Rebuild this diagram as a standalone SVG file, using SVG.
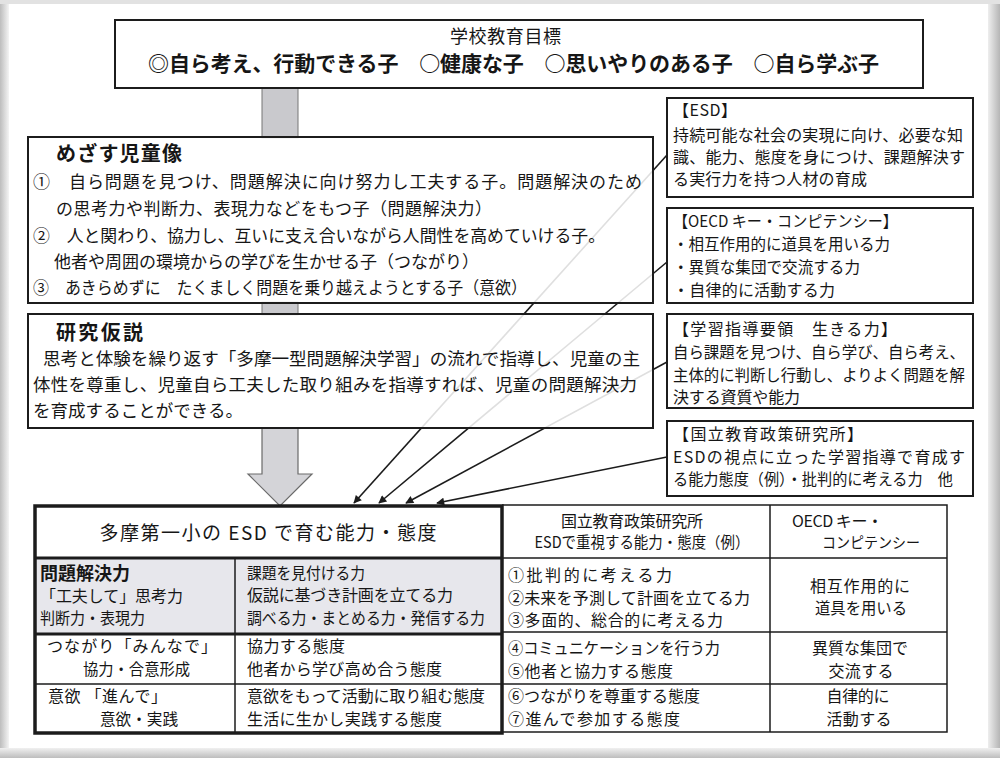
<svg xmlns="http://www.w3.org/2000/svg" width="1000" height="758" viewBox="0 0 1000 758">
<defs>
<style>
.t{font-family:"Noto Sans CJK JP","Liberation Sans",sans-serif;fill:#161616;}
.b{font-weight:bold;}
.box{fill:#fff;stroke:#1c1c1c;stroke-width:2;}
.boxs{fill:#fff;fill-opacity:.86;stroke:#1c1c1c;stroke-width:2;}
.ln{stroke:#1c1c1c;stroke-width:1.6;fill:none;}
.thin{stroke:#1c1c1c;stroke-width:1.5;fill:none;}
.thick{stroke:#1c1c1c;stroke-width:3;fill:none;}
.bar{fill:#c9c9cd;stroke:#777;stroke-width:1;}
.s16{font-size:16px;}
.s17{font-size:17px;}
</style>
<marker id="ah" viewBox="0 0 10 10" refX="9" refY="5" markerWidth="10" markerHeight="8" markerUnits="userSpaceOnUse" orient="auto">
<path d="M0,0 L10,5 L0,10 z" fill="#1c1c1c"/>
</marker>
<linearGradient id="gl" x1="0" x2="1" y1="0" y2="0"><stop offset="0" stop-color="#bdbdbd"/><stop offset="1" stop-color="#f4f4f4"/></linearGradient>
<linearGradient id="gr" x1="1" x2="0" y1="0" y2="0"><stop offset="0" stop-color="#b5b5b5"/><stop offset="1" stop-color="#eeeeee"/></linearGradient>
<linearGradient id="gb" x1="0" x2="0" y1="1" y2="0"><stop offset="0" stop-color="#bdbdbd"/><stop offset="1" stop-color="#f0f0f0"/></linearGradient>
</defs>

<rect x="0" y="0" width="1000" height="758" fill="#fff"/>
<rect x="0" y="0" width="9" height="758" fill="url(#gl)"/>
<rect x="988" y="0" width="12" height="758" fill="url(#gr)"/>
<rect x="0" y="748" width="1000" height="10" fill="url(#gb)"/>
<rect x="0" y="0" width="1000" height="4" fill="#e2e2e2"/>

<g id="connectors">
<rect class="bar" x="262" y="86" width="36" height="52"/>
<rect class="bar" x="262" y="302" width="36" height="13"/>
<polygon points="262,428 298,428 298,474 312,474 280,506 248,474 262,474" fill="#d4d4d8" stroke="#6a6a6a" stroke-width="1.2"/>
<line class="ln" x1="667" y1="155" x2="354" y2="503" marker-end="url(#ah)"/>
<line class="ln" x1="667" y1="262" x2="379" y2="503" marker-end="url(#ah)"/>
<line class="ln" x1="667" y1="362" x2="406" y2="503" marker-end="url(#ah)"/>
<line class="ln" x1="667" y1="457" x2="437" y2="503" marker-end="url(#ah)"/>
</g>

<g id="goal">
<rect class="box" x="115" y="20" width="808" height="68"/>
<text class="t" x="450" y="43" font-size="18" textLength="111" lengthAdjust="spacing">学校教育目標</text>
<text class="t b" x="148" y="71" font-size="21" textLength="731" lengthAdjust="spacing">◎自ら考え、行動できる子　○健康な子　○思いやりのある子　○自ら学ぶ子</text>
</g>

<g id="mezasu">
<rect class="boxs" x="28" y="137" width="625" height="166"/>
<text class="t b" x="56" y="161" font-size="20" textLength="126" lengthAdjust="spacing">めざす児童像</text>
<text class="t s17" x="33" y="188" textLength="609" lengthAdjust="spacing">①　自ら問題を見つけ、問題解決に向け努力し工夫する子。問題解決のため</text>
<text class="t s17" x="56" y="215" textLength="436" lengthAdjust="spacing">の思考力や判断力、表現力などをもつ子（問題解決力）</text>
<text class="t s17" x="33" y="242" textLength="572" lengthAdjust="spacingAndGlyphs">②　人と関わり、協力し、互いに支え合いながら人間性を高めていける子。</text>
<text class="t s17" x="54" y="268" textLength="425" lengthAdjust="spacing">他者や周囲の環境からの学びを生かせる子（つながり）</text>
<text class="t s17" x="33" y="294" textLength="494" lengthAdjust="spacingAndGlyphs">③　あきらめずに　たくましく問題を乗り越えようとする子（意欲）</text>
</g>

<g id="kasetsu">
<rect class="boxs" x="28" y="314" width="625" height="114"/>
<text class="t b" x="56" y="340" font-size="20" textLength="87" lengthAdjust="spacing">研究仮説</text>
<text class="t" x="43" y="365" font-size="17.5" textLength="597" lengthAdjust="spacingAndGlyphs">思考と体験を繰り返す「多摩一型問題解決学習」の流れで指導し、児童の主</text>
<text class="t" x="33" y="391" font-size="17.5" textLength="604" lengthAdjust="spacing">体性を尊重し、児童自ら工夫した取り組みを指導すれば、児童の問題解決力</text>
<text class="t" x="33" y="417" font-size="17.5" textLength="210" lengthAdjust="spacing">を育成することができる。</text>
</g>

<g id="esd">
<rect class="box" x="667" y="98" width="306" height="99"/>
<text class="t s16" x="673" y="116" textLength="64" lengthAdjust="spacing">【ESD】</text>
<text class="t s16" x="673" y="141" textLength="290" lengthAdjust="spacing">持続可能な社会の実現に向け、必要な知</text>
<text class="t s16" x="673" y="163" textLength="292" lengthAdjust="spacing">識、能力、態度を身につけ、課題解決す</text>
<text class="t s16" x="673" y="185" textLength="194" lengthAdjust="spacing">る実行力を持つ人材の育成</text>
</g>

<g id="oecd">
<rect class="box" x="667" y="208" width="306" height="95"/>
<text class="t s16" x="673" y="227" textLength="225" lengthAdjust="spacingAndGlyphs">【OECD キー・コンピテンシー】</text>
<text class="t s16" x="673" y="250" textLength="217" lengthAdjust="spacingAndGlyphs">・相互作用的に道具を用いる力</text>
<text class="t s16" x="673" y="273" textLength="187" lengthAdjust="spacingAndGlyphs">・異質な集団で交流する力</text>
<text class="t s16" x="673" y="296" textLength="162" lengthAdjust="spacing">・自律的に活動する力</text>
</g>

<g id="ikiru">
<rect class="box" x="667" y="314" width="306" height="94"/>
<text class="t s16" x="673" y="335" textLength="224" lengthAdjust="spacing">【学習指導要領　生きる力】</text>
<text class="t s16" x="673" y="358" textLength="292" lengthAdjust="spacingAndGlyphs">自ら課題を見つけ、自ら学び、自ら考え、</text>
<text class="t s16" x="673" y="381" textLength="292" lengthAdjust="spacingAndGlyphs">主体的に判断し行動し、よりよく問題を解</text>
<text class="t s16" x="673" y="403" textLength="127" lengthAdjust="spacing">決する資質や能力</text>
</g>

<g id="nier">
<rect class="box" x="667" y="421" width="306" height="75"/>
<text class="t s16" x="673" y="440" textLength="190" lengthAdjust="spacing">【国立教育政策研究所】</text>
<text class="t s16" x="673" y="463" textLength="292" lengthAdjust="spacing">ESDの視点に立った学習指導で育成す</text>
<text class="t s16" x="673" y="485" textLength="280" lengthAdjust="spacingAndGlyphs">る能力態度（例）・批判的に考える力　他</text>
</g>

<g id="table-right">
<rect x="502" y="505" width="445" height="227" fill="#fff"/>
<path class="thin" d="M502,505 H947 V732 H502 M502,558 H947 M502,632 H947 M502,684 H947 M770,505 V732"/>
<text class="t s16" x="632" y="527" text-anchor="middle" textLength="142" lengthAdjust="spacing">国立教育政策研究所</text>
<text class="t" x="642" y="548" font-size="15.5" text-anchor="middle" textLength="215" lengthAdjust="spacingAndGlyphs">ESDで重視する能力・態度（例）</text>
<text class="t s16" x="792" y="527" textLength="91" lengthAdjust="spacing">OECD キー・</text>
<text class="t" x="822" y="548" font-size="15" textLength="98" lengthAdjust="spacingAndGlyphs">コンピテンシー</text>
<text class="t s16" x="508" y="581" textLength="164" lengthAdjust="spacing">①批判的に考える力</text>
<text class="t s16" x="508" y="604" textLength="242" lengthAdjust="spacing">②未来を予測して計画を立てる力</text>
<text class="t s16" x="508" y="626" textLength="215" lengthAdjust="spacing">③多面的、総合的に考える力</text>
<text class="t s16" x="860" y="592" text-anchor="middle" textLength="100" lengthAdjust="spacing">相互作用的に</text>
<text class="t s16" x="861" y="614" text-anchor="middle" textLength="92" lengthAdjust="spacingAndGlyphs">道具を用いる</text>
<text class="t s16" x="508" y="654" textLength="212" lengthAdjust="spacingAndGlyphs">④コミュニケーションを行う力</text>
<text class="t s16" x="508" y="677" textLength="165" lengthAdjust="spacing">⑤他者と協力する態度</text>
<text class="t s16" x="860" y="654" text-anchor="middle" textLength="96" lengthAdjust="spacing">異質な集団で</text>
<text class="t s16" x="861" y="677" text-anchor="middle" textLength="65" lengthAdjust="spacing">交流する</text>
<text class="t s16" x="508" y="702" textLength="192" lengthAdjust="spacing">⑥つながりを尊重する態度</text>
<text class="t s16" x="508" y="725" textLength="172" lengthAdjust="spacing">⑦進んで参加する態度</text>
<text class="t s16" x="858" y="702" text-anchor="middle" textLength="63" lengthAdjust="spacing">自律的に</text>
<text class="t s16" x="859" y="725" text-anchor="middle" textLength="65" lengthAdjust="spacing">活動する</text>
</g>

<g id="table-left">
<rect x="35" y="506" width="467" height="227" fill="#fff"/>
<rect x="35" y="558" width="467" height="76" fill="#e7e7ec"/>
<path class="thin" d="M235,558 V733 M35,684 H502"/>
<path class="thick" d="M35,558 H502 M35,634 H502"/>
<rect x="35" y="506" width="467" height="227" fill="none" stroke="#1c1c1c" stroke-width="3.5"/>
<text class="t" x="268" y="540" font-size="19" text-anchor="middle" textLength="337" lengthAdjust="spacing">多摩第一小の ESD で育む能力・態度</text>
<text class="t b" x="40" y="580" font-size="18" textLength="90" lengthAdjust="spacing">問題解決力</text>
<text class="t s16" x="40" y="602" textLength="143" lengthAdjust="spacing">「工夫して」思考力</text>
<text class="t s16" x="40" y="624" textLength="105" lengthAdjust="spacingAndGlyphs">判断力・表現力</text>
<text class="t s16" x="247" y="579" textLength="118" lengthAdjust="spacingAndGlyphs">課題を見付ける力</text>
<text class="t s16" x="247" y="601" textLength="206" lengthAdjust="spacing">仮説に基づき計画を立てる力</text>
<text class="t s16" x="247" y="624" textLength="238" lengthAdjust="spacingAndGlyphs">調べる力・まとめる力・発信する力</text>
<text class="t s16" x="47" y="652" textLength="170" lengthAdjust="spacing">つながり「みんなで」</text>
<text class="t s16" x="83" y="675" textLength="107" lengthAdjust="spacingAndGlyphs">協力・合意形成</text>
<text class="t s16" x="247" y="652" textLength="98" lengthAdjust="spacing">協力する態度</text>
<text class="t s16" x="247" y="675" textLength="195" lengthAdjust="spacing">他者から学び高め合う態度</text>
<text class="t s16" x="48" y="702" textLength="119" lengthAdjust="spacing">意欲 「進んで」</text>
<text class="t s16" x="100" y="725" textLength="78" lengthAdjust="spacingAndGlyphs">意欲・実践</text>
<text class="t s16" x="247" y="702" textLength="238" lengthAdjust="spacingAndGlyphs">意欲をもって活動に取り組む態度</text>
<text class="t s16" x="247" y="725" textLength="195" lengthAdjust="spacing">生活に生かし実践する態度</text>
</g>
</svg>
